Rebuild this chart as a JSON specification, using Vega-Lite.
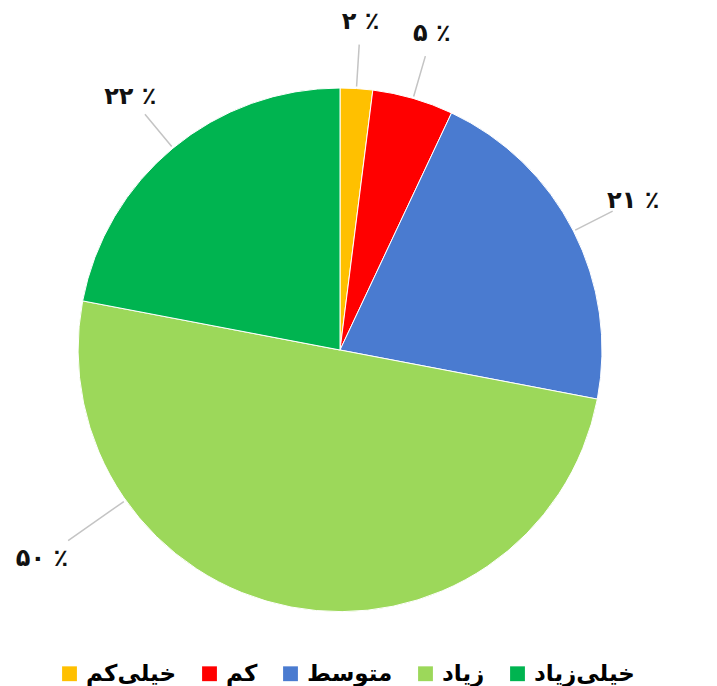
{
  "$schema": "https://vega.github.io/schema/vega-lite/v6.json",
  "width": 680,
  "height": 672,
  "autosize": {"type": "none"},
  "padding": {"left": 0, "top": 14, "right": 37, "bottom": 0},
  "background": "white",
  "view": {"stroke": null},
  "config": {"font": "DejaVu Sans"},
  "data": {
    "values": [
      {"category": "خیلی‌کم", "value": 2, "label": "۲ ٪", "rank": 1},
      {"category": "کم", "value": 5, "label": "۵ ٪", "rank": 2},
      {"category": "متوسط", "value": 21, "label": "۲۱ ٪", "rank": 3},
      {"category": "زیاد", "value": 50, "label": "۵۰ ٪", "rank": 4},
      {"category": "خیلی‌زیاد", "value": 22, "label": "۲۲ ٪", "rank": 5}
    ]
  },
  "transform": [
    {"stack": "value", "groupby": [], "sort": [{"field": "rank", "order": "ascending"}], "as": ["v0", "v1"]}
  ],
  "layer": [
    {
      "mark": {"type": "arc", "outerRadius": 262, "stroke": "#ffffff", "strokeWidth": 1},
      "encoding": {
        "theta": {"field": "v0", "type": "quantitative", "scale": {"domain": [0, 100]}},
        "theta2": {"field": "v1"},
        "color": {
          "field": "category",
          "type": "nominal",
          "sort": ["خیلی‌کم", "کم", "متوسط", "زیاد", "خیلی‌زیاد"],
          "scale": {
            "domain": ["خیلی‌کم", "کم", "متوسط", "زیاد", "خیلی‌زیاد"],
            "range": ["#FFC000", "#FF0000", "#4A7BD0", "#9CD85A", "#00B450"]
          },
          "legend": {
            "orient": "none",
            "direction": "horizontal",
            "legendX": 58,
            "legendY": 648,
            "title": null,
            "symbolType": "square",
            "symbolSize": 220,
            "symbolStrokeWidth": 0,
            "labelFont": "DejaVu Sans",
            "labelFontWeight": "bold",
            "labelFontSize": 23,
            "labelColor": "#000000",
            "labelOffset": 5,
            "columnPadding": 21,
            "labelLimit": 250
          }
        }
      }
    },
    {
      "transform": [{"filter": "datum.rank != 4"}],
      "mark": {"type": "arc", "innerRadius": 264, "outerRadius": 306, "padAngle": 3.1416, "fill": "transparent", "stroke": "#c4c4c4", "strokeWidth": 1.5},
      "encoding": {
        "theta": {"field": "v0", "type": "quantitative", "scale": {"domain": [0, 100]}},
        "theta2": {"field": "v1"}
      }
    },
    {
      "transform": [{"filter": "datum.rank == 4"}],
      "mark": {"type": "arc", "innerRadius": 264, "outerRadius": 332, "padAngle": 3.1416, "thetaOffset": 0.771, "theta2Offset": 0.771, "fill": "transparent", "stroke": "#c4c4c4", "strokeWidth": 1.5},
      "encoding": {
        "theta": {"field": "v0", "type": "quantitative", "scale": {"domain": [0, 100]}},
        "theta2": {"field": "v1"}
      }
    },
    {
      "mark": {"type": "text", "radius": 329, "font": "DejaVu Sans", "fontWeight": "bold", "fontSize": 24, "color": "#111111"},
      "encoding": {
        "theta": {"field": "value", "type": "quantitative", "stack": true, "scale": {"domain": [0, 100]}},
        "order": {"field": "rank", "type": "quantitative"},
        "text": {"condition": {"test": "datum.rank == 4", "value": ""}, "field": "label"}
      }
    },
    {
      "mark": {"type": "text", "radius": 364, "thetaOffset": 0.771, "font": "DejaVu Sans", "fontWeight": "bold", "fontSize": 24, "color": "#111111"},
      "encoding": {
        "theta": {"field": "value", "type": "quantitative", "stack": true, "scale": {"domain": [0, 100]}},
        "order": {"field": "rank", "type": "quantitative"},
        "text": {"condition": {"test": "datum.rank != 4", "value": ""}, "field": "label"}
      }
    }
  ]
}
